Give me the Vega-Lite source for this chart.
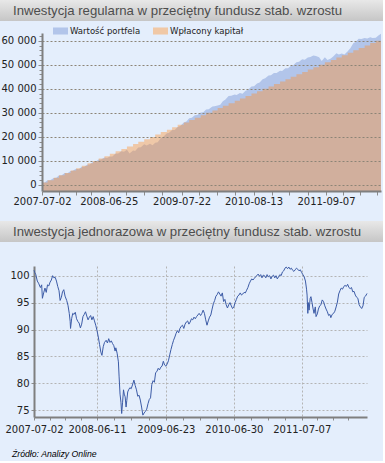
{
  "$schema": "https://vega.github.io/schema/vega-lite/v6.json",
  "background": "#e4eefc",
  "padding": {"left": 0, "top": 0, "right": 0, "bottom": 2},
  "config": {
    "view": {"stroke": null},
    "locale": {"number": {"decimal": ",", "thousands": " ", "grouping": [3], "currency": ["", " zł"]}},
    "axis": {"labelFont": "DejaVu Sans", "labelFontSize": 10, "labelColor": "#222222", "domainColor": "#7f7f7f", "domainWidth": 2, "tickColor": "#8c8c8c", "tickWidth": 1, "gridDash": [2, 2], "labelFlush": false, "labelOverlap": false, "tickCount": 100}
  },
  "title": {"text": "Źródło: Analizy Online", "orient": "bottom", "anchor": "start", "frame": "bounds", "font": "Liberation Sans", "fontSize": 8.7, "fontStyle": "italic", "fontWeight": "normal", "color": "#000000", "dx": 12, "offset": 16},
  "resolve": {"scale": {"color": "independent"}, "legend": {"color": "independent"}},
  "datasets": {
    "val": [
      {"d": "2007-07-02", "v": 1000}, {"d": "2007-07-16", "v": 990}, {"d": "2007-08-01", "v": 1985}, {"d": "2007-08-15", "v": 1935},
      {"d": "2007-09-03", "v": 2951}, {"d": "2007-09-17", "v": 2963}, {"d": "2007-10-01", "v": 3981}, {"d": "2007-10-16", "v": 4030},
      {"d": "2007-11-01", "v": 4989}, {"d": "2007-11-16", "v": 4889}, {"d": "2007-12-03", "v": 5863}, {"d": "2007-12-14", "v": 5882},
      {"d": "2008-01-02", "v": 6772}, {"d": "2008-01-16", "v": 6523}, {"d": "2008-02-01", "v": 7594}, {"d": "2008-02-15", "v": 7635},
      {"d": "2008-03-03", "v": 8487}, {"d": "2008-03-14", "v": 8469}, {"d": "2008-04-01", "v": 9608}, {"d": "2008-04-15", "v": 9660},
      {"d": "2008-05-02", "v": 10577}, {"d": "2008-05-15", "v": 10554}, {"d": "2008-06-02", "v": 11417}, {"d": "2008-06-16", "v": 11253},
      {"d": "2008-07-01", "v": 11813}, {"d": "2008-07-15", "v": 11882}, {"d": "2008-08-01", "v": 13088}, {"d": "2008-08-15", "v": 13132},
      {"d": "2008-09-01", "v": 14043}, {"d": "2008-09-15", "v": 13851}, {"d": "2008-10-01", "v": 14611}, {"d": "2008-10-15", "v": 13064},
      {"d": "2008-11-03", "v": 14322}, {"d": "2008-11-14", "v": 14137}, {"d": "2008-12-01", "v": 15562}, {"d": "2008-12-15", "v": 15700},
      {"d": "2009-01-02", "v": 16898}, {"d": "2009-01-15", "v": 16436}, {"d": "2009-02-02", "v": 17163}, {"d": "2009-02-16", "v": 16561},
      {"d": "2009-03-02", "v": 17606}, {"d": "2009-03-16", "v": 17795}, {"d": "2009-04-01", "v": 19551}, {"d": "2009-04-15", "v": 20049},
      {"d": "2009-05-04", "v": 21547}, {"d": "2009-05-15", "v": 21626}, {"d": "2009-06-01", "v": 22861}, {"d": "2009-06-15", "v": 22833},
      {"d": "2009-07-01", "v": 24079}, {"d": "2009-07-15", "v": 24506}, {"d": "2009-08-03", "v": 25934}, {"d": "2009-08-17", "v": 26379},
      {"d": "2009-09-01", "v": 27734}, {"d": "2009-09-15", "v": 27918}, {"d": "2009-10-01", "v": 29042}, {"d": "2009-10-15", "v": 29105},
      {"d": "2009-11-02", "v": 30169}, {"d": "2009-11-16", "v": 30235}, {"d": "2009-12-01", "v": 31367}, {"d": "2009-12-15", "v": 31503},
      {"d": "2010-01-04", "v": 32639}, {"d": "2010-01-15", "v": 32744}, {"d": "2010-02-01", "v": 33007}, {"d": "2010-02-15", "v": 33369},
      {"d": "2010-03-01", "v": 34840}, {"d": "2010-03-15", "v": 35510}, {"d": "2010-04-01", "v": 36957}, {"d": "2010-04-15", "v": 37072},
      {"d": "2010-05-04", "v": 37613}, {"d": "2010-05-14", "v": 37377}, {"d": "2010-06-01", "v": 38259}, {"d": "2010-06-15", "v": 37976},
      {"d": "2010-07-01", "v": 39178}, {"d": "2010-07-15", "v": 39592}, {"d": "2010-08-02", "v": 40965}, {"d": "2010-08-16", "v": 41008},
      {"d": "2010-09-01", "v": 42220}, {"d": "2010-09-15", "v": 42656}, {"d": "2010-10-01", "v": 44004}, {"d": "2010-10-15", "v": 44360},
      {"d": "2010-11-02", "v": 45494}, {"d": "2010-11-15", "v": 45585}, {"d": "2010-12-01", "v": 46585}, {"d": "2010-12-15", "v": 46538},
      {"d": "2011-01-03", "v": 47492}, {"d": "2011-01-14", "v": 47444}, {"d": "2011-02-01", "v": 48587}, {"d": "2011-02-15", "v": 48538},
      {"d": "2011-03-01", "v": 49441}, {"d": "2011-03-15", "v": 49788}, {"d": "2011-04-01", "v": 51085}, {"d": "2011-04-15", "v": 51237},
      {"d": "2011-05-02", "v": 52237}, {"d": "2011-05-16", "v": 52031}, {"d": "2011-06-01", "v": 53031}, {"d": "2011-06-15", "v": 53188},
      {"d": "2011-07-01", "v": 53873}, {"d": "2011-07-15", "v": 53606}, {"d": "2011-08-01", "v": 53161}, {"d": "2011-08-15", "v": 51525},
      {"d": "2011-09-01", "v": 53071}, {"d": "2011-09-15", "v": 51959}, {"d": "2011-10-03", "v": 52570}, {"d": "2011-10-17", "v": 53533},
      {"d": "2011-11-02", "v": 54817}, {"d": "2011-11-15", "v": 54240}, {"d": "2011-12-01", "v": 54662}, {"d": "2011-12-15", "v": 54310},
      {"d": "2012-01-02", "v": 55663}, {"d": "2012-01-16", "v": 56860}, {"d": "2012-02-01", "v": 58937}, {"d": "2012-02-15", "v": 59546},
      {"d": "2012-03-01", "v": 60789}, {"d": "2012-03-15", "v": 60666}, {"d": "2012-04-02", "v": 61170}, {"d": "2012-04-16", "v": 60919},
      {"d": "2012-05-02", "v": 61415}, {"d": "2012-05-15", "v": 61095}, {"d": "2012-06-01", "v": 61264}, {"d": "2012-06-15", "v": 62109},
      {"d": "2012-06-29", "v": 62890}
    ],
    "cap": [
      {"d": "2007-07-02", "c": 1000}, {"d": "2007-08-01", "c": 2000}, {"d": "2007-09-03", "c": 3000}, {"d": "2007-10-01", "c": 4000},
      {"d": "2007-11-01", "c": 5000}, {"d": "2007-12-03", "c": 6000}, {"d": "2008-01-02", "c": 7000}, {"d": "2008-02-01", "c": 8000},
      {"d": "2008-03-03", "c": 9000}, {"d": "2008-04-01", "c": 10000}, {"d": "2008-05-02", "c": 11000}, {"d": "2008-06-02", "c": 12000},
      {"d": "2008-07-01", "c": 13000}, {"d": "2008-08-01", "c": 14000}, {"d": "2008-09-01", "c": 15000}, {"d": "2008-10-01", "c": 16000},
      {"d": "2008-11-03", "c": 17000}, {"d": "2008-12-01", "c": 18000}, {"d": "2009-01-02", "c": 19000}, {"d": "2009-02-02", "c": 20000},
      {"d": "2009-03-02", "c": 21000}, {"d": "2009-04-01", "c": 22000}, {"d": "2009-05-04", "c": 23000}, {"d": "2009-06-01", "c": 24000},
      {"d": "2009-07-01", "c": 25000}, {"d": "2009-08-03", "c": 26000}, {"d": "2009-09-01", "c": 27000}, {"d": "2009-10-01", "c": 28000},
      {"d": "2009-11-02", "c": 29000}, {"d": "2009-12-01", "c": 30000}, {"d": "2010-01-04", "c": 31000}, {"d": "2010-02-01", "c": 32000},
      {"d": "2010-03-01", "c": 33000}, {"d": "2010-04-01", "c": 34000}, {"d": "2010-05-04", "c": 35000}, {"d": "2010-06-01", "c": 36000},
      {"d": "2010-07-01", "c": 37000}, {"d": "2010-08-02", "c": 38000}, {"d": "2010-09-01", "c": 39000}, {"d": "2010-10-01", "c": 40000},
      {"d": "2010-11-02", "c": 41000}, {"d": "2010-12-01", "c": 42000}, {"d": "2011-01-03", "c": 43000}, {"d": "2011-02-01", "c": 44000},
      {"d": "2011-03-01", "c": 45000}, {"d": "2011-04-01", "c": 46000}, {"d": "2011-05-02", "c": 47000}, {"d": "2011-06-01", "c": 48000},
      {"d": "2011-07-01", "c": 49000}, {"d": "2011-08-01", "c": 50000}, {"d": "2011-09-01", "c": 51000}, {"d": "2011-10-03", "c": 52000},
      {"d": "2011-11-02", "c": 53000}, {"d": "2011-12-01", "c": 54000}, {"d": "2012-01-02", "c": 55000}, {"d": "2012-02-01", "c": 56000},
      {"d": "2012-03-01", "c": 57000}, {"d": "2012-04-02", "c": 58000}, {"d": "2012-05-02", "c": 59000}, {"d": "2012-06-01", "c": 60000},
      {"d": "2012-06-29", "c": 60000}
    ],
    "price": [
      {"d": "2007-07-02", "p": 101.0}, {"d": "2007-07-06", "p": 100.6}, {"d": "2007-07-12", "p": 100.2}, {"d": "2007-07-20", "p": 99.0},
      {"d": "2007-07-27", "p": 98.6}, {"d": "2007-08-06", "p": 97.8}, {"d": "2007-08-13", "p": 98.3}, {"d": "2007-08-17", "p": 95.8},
      {"d": "2007-08-24", "p": 96.8}, {"d": "2007-08-31", "p": 97.7}, {"d": "2007-09-07", "p": 96.9}, {"d": "2007-09-14", "p": 98.3},
      {"d": "2007-09-21", "p": 98.1}, {"d": "2007-09-28", "p": 98.8}, {"d": "2007-10-05", "p": 99.2}, {"d": "2007-10-12", "p": 100.0},
      {"d": "2007-10-19", "p": 99.6}, {"d": "2007-10-26", "p": 99.7}, {"d": "2007-11-02", "p": 99.0}, {"d": "2007-11-09", "p": 98.0},
      {"d": "2007-11-16", "p": 97.2}, {"d": "2007-11-22", "p": 95.4}, {"d": "2007-11-29", "p": 96.0}, {"d": "2007-12-05", "p": 97.0},
      {"d": "2007-12-12", "p": 97.4}, {"d": "2007-12-19", "p": 96.2}, {"d": "2007-12-28", "p": 95.4}, {"d": "2008-01-04", "p": 94.5},
      {"d": "2008-01-11", "p": 93.0}, {"d": "2008-01-16", "p": 91.5}, {"d": "2008-01-18", "p": 90.2}, {"d": "2008-01-24", "p": 92.0},
      {"d": "2008-01-30", "p": 93.0}, {"d": "2008-02-06", "p": 92.8}, {"d": "2008-02-13", "p": 93.2}, {"d": "2008-02-20", "p": 92.0},
      {"d": "2008-02-27", "p": 91.5}, {"d": "2008-03-05", "p": 91.2}, {"d": "2008-03-12", "p": 90.3}, {"d": "2008-03-19", "p": 91.0},
      {"d": "2008-03-26", "p": 92.4}, {"d": "2008-04-02", "p": 92.8}, {"d": "2008-04-09", "p": 93.3}, {"d": "2008-04-16", "p": 92.5},
      {"d": "2008-04-23", "p": 91.8}, {"d": "2008-04-30", "p": 92.3}, {"d": "2008-05-07", "p": 92.6}, {"d": "2008-05-14", "p": 91.8},
      {"d": "2008-05-21", "p": 92.4}, {"d": "2008-05-28", "p": 91.6}, {"d": "2008-06-04", "p": 90.8}, {"d": "2008-06-11", "p": 89.8},
      {"d": "2008-06-18", "p": 88.6}, {"d": "2008-06-25", "p": 87.2}, {"d": "2008-07-02", "p": 85.8}, {"d": "2008-07-08", "p": 85.2},
      {"d": "2008-07-15", "p": 86.8}, {"d": "2008-07-22", "p": 87.6}, {"d": "2008-07-31", "p": 88.0}, {"d": "2008-08-07", "p": 87.5},
      {"d": "2008-08-14", "p": 88.3}, {"d": "2008-08-21", "p": 87.6}, {"d": "2008-08-28", "p": 87.9}, {"d": "2008-09-04", "p": 87.4},
      {"d": "2008-09-11", "p": 87.0}, {"d": "2008-09-18", "p": 86.0}, {"d": "2008-09-22", "p": 86.6}, {"d": "2008-09-29", "p": 85.6},
      {"d": "2008-10-06", "p": 84.0}, {"d": "2008-10-10", "p": 81.2}, {"d": "2008-10-15", "p": 78.0}, {"d": "2008-10-20", "p": 76.5},
      {"d": "2008-10-24", "p": 74.4}, {"d": "2008-10-29", "p": 76.5}, {"d": "2008-11-03", "p": 78.8}, {"d": "2008-11-07", "p": 78.0},
      {"d": "2008-11-12", "p": 77.5}, {"d": "2008-11-17", "p": 75.6}, {"d": "2008-11-21", "p": 76.8}, {"d": "2008-11-26", "p": 78.4},
      {"d": "2008-12-01", "p": 78.8}, {"d": "2008-12-08", "p": 79.2}, {"d": "2008-12-15", "p": 79.0}, {"d": "2008-12-22", "p": 79.7},
      {"d": "2008-12-30", "p": 80.6}, {"d": "2009-01-06", "p": 79.6}, {"d": "2009-01-13", "p": 78.8}, {"d": "2009-01-20", "p": 77.6},
      {"d": "2009-01-27", "p": 77.8}, {"d": "2009-02-03", "p": 76.9}, {"d": "2009-02-10", "p": 75.6}, {"d": "2009-02-17", "p": 74.1},
      {"d": "2009-02-24", "p": 74.5}, {"d": "2009-03-03", "p": 74.8}, {"d": "2009-03-10", "p": 75.2}, {"d": "2009-03-17", "p": 76.2},
      {"d": "2009-03-24", "p": 77.0}, {"d": "2009-03-31", "p": 77.3}, {"d": "2009-04-07", "p": 79.8}, {"d": "2009-04-14", "p": 80.5},
      {"d": "2009-04-21", "p": 80.2}, {"d": "2009-04-28", "p": 82.0}, {"d": "2009-05-05", "p": 82.2}, {"d": "2009-05-12", "p": 82.8},
      {"d": "2009-05-19", "p": 82.5}, {"d": "2009-05-26", "p": 83.0}, {"d": "2009-06-02", "p": 83.2}, {"d": "2009-06-09", "p": 84.1},
      {"d": "2009-06-16", "p": 83.4}, {"d": "2009-06-23", "p": 83.2}, {"d": "2009-06-30", "p": 83.6}, {"d": "2009-07-07", "p": 84.2},
      {"d": "2009-07-14", "p": 85.3}, {"d": "2009-07-21", "p": 86.3}, {"d": "2009-07-28", "p": 87.2}, {"d": "2009-08-04", "p": 88.0},
      {"d": "2009-08-11", "p": 88.6}, {"d": "2009-08-18", "p": 89.3}, {"d": "2009-08-25", "p": 89.8}, {"d": "2009-09-01", "p": 89.4},
      {"d": "2009-09-08", "p": 90.2}, {"d": "2009-09-15", "p": 90.6}, {"d": "2009-09-22", "p": 90.8}, {"d": "2009-09-29", "p": 90.2},
      {"d": "2009-10-06", "p": 91.0}, {"d": "2009-10-13", "p": 91.4}, {"d": "2009-10-20", "p": 91.6}, {"d": "2009-10-27", "p": 91.0},
      {"d": "2009-11-03", "p": 91.4}, {"d": "2009-11-10", "p": 92.0}, {"d": "2009-11-17", "p": 91.8}, {"d": "2009-11-24", "p": 92.3},
      {"d": "2009-12-01", "p": 92.0}, {"d": "2009-12-08", "p": 92.4}, {"d": "2009-12-15", "p": 92.7}, {"d": "2009-12-22", "p": 93.0},
      {"d": "2009-12-30", "p": 92.6}, {"d": "2010-01-06", "p": 93.0}, {"d": "2010-01-13", "p": 93.6}, {"d": "2010-01-20", "p": 93.0},
      {"d": "2010-01-27", "p": 91.8}, {"d": "2010-02-03", "p": 90.8}, {"d": "2010-02-10", "p": 91.6}, {"d": "2010-02-17", "p": 92.3},
      {"d": "2010-02-24", "p": 92.7}, {"d": "2010-03-03", "p": 93.8}, {"d": "2010-03-10", "p": 94.8}, {"d": "2010-03-17", "p": 95.4},
      {"d": "2010-03-24", "p": 96.2}, {"d": "2010-03-31", "p": 96.5}, {"d": "2010-04-07", "p": 97.0}, {"d": "2010-04-14", "p": 96.6},
      {"d": "2010-04-21", "p": 96.2}, {"d": "2010-04-28", "p": 96.8}, {"d": "2010-05-05", "p": 95.2}, {"d": "2010-05-12", "p": 95.6},
      {"d": "2010-05-19", "p": 94.6}, {"d": "2010-05-26", "p": 94.0}, {"d": "2010-06-02", "p": 94.6}, {"d": "2010-06-09", "p": 95.0},
      {"d": "2010-06-16", "p": 94.4}, {"d": "2010-06-23", "p": 93.9}, {"d": "2010-06-30", "p": 94.2}, {"d": "2010-07-07", "p": 95.0},
      {"d": "2010-07-14", "p": 95.6}, {"d": "2010-07-21", "p": 96.2}, {"d": "2010-07-28", "p": 96.4}, {"d": "2010-08-04", "p": 96.8},
      {"d": "2010-08-11", "p": 96.4}, {"d": "2010-08-18", "p": 96.6}, {"d": "2010-08-25", "p": 96.9}, {"d": "2010-09-01", "p": 96.8},
      {"d": "2010-09-08", "p": 97.3}, {"d": "2010-09-15", "p": 97.8}, {"d": "2010-09-22", "p": 98.5}, {"d": "2010-09-29", "p": 99.0},
      {"d": "2010-10-06", "p": 99.4}, {"d": "2010-10-13", "p": 99.2}, {"d": "2010-10-20", "p": 99.5}, {"d": "2010-10-27", "p": 99.8},
      {"d": "2010-11-03", "p": 100.0}, {"d": "2010-11-10", "p": 100.3}, {"d": "2010-11-17", "p": 99.9}, {"d": "2010-11-24", "p": 100.2},
      {"d": "2010-12-01", "p": 99.6}, {"d": "2010-12-08", "p": 100.1}, {"d": "2010-12-15", "p": 100.0}, {"d": "2010-12-22", "p": 99.6},
      {"d": "2010-12-29", "p": 100.2}, {"d": "2011-01-05", "p": 99.8}, {"d": "2011-01-12", "p": 100.0}, {"d": "2011-01-19", "p": 99.4},
      {"d": "2011-01-26", "p": 99.9}, {"d": "2011-02-02", "p": 100.1}, {"d": "2011-02-09", "p": 99.6}, {"d": "2011-02-16", "p": 100.0},
      {"d": "2011-02-23", "p": 99.4}, {"d": "2011-03-02", "p": 99.8}, {"d": "2011-03-09", "p": 100.2}, {"d": "2011-03-16", "p": 100.0},
      {"d": "2011-03-23", "p": 100.7}, {"d": "2011-03-30", "p": 100.9}, {"d": "2011-04-06", "p": 101.4}, {"d": "2011-04-13", "p": 101.6},
      {"d": "2011-04-20", "p": 101.3}, {"d": "2011-04-27", "p": 101.6}, {"d": "2011-05-04", "p": 101.2}, {"d": "2011-05-11", "p": 101.4},
      {"d": "2011-05-18", "p": 101.0}, {"d": "2011-05-25", "p": 100.8}, {"d": "2011-06-01", "p": 101.1}, {"d": "2011-06-08", "p": 101.4},
      {"d": "2011-06-15", "p": 101.2}, {"d": "2011-06-22", "p": 100.9}, {"d": "2011-06-29", "p": 101.1}, {"d": "2011-07-06", "p": 100.6},
      {"d": "2011-07-13", "p": 100.2}, {"d": "2011-07-20", "p": 99.8}, {"d": "2011-07-27", "p": 99.0}, {"d": "2011-08-02", "p": 97.5},
      {"d": "2011-08-05", "p": 96.4}, {"d": "2011-08-09", "p": 93.0}, {"d": "2011-08-12", "p": 95.0}, {"d": "2011-08-16", "p": 93.6},
      {"d": "2011-08-22", "p": 95.8}, {"d": "2011-08-26", "p": 96.1}, {"d": "2011-09-01", "p": 95.0}, {"d": "2011-09-06", "p": 94.0},
      {"d": "2011-09-12", "p": 93.0}, {"d": "2011-09-19", "p": 94.2}, {"d": "2011-09-23", "p": 92.4}, {"d": "2011-09-30", "p": 92.9},
      {"d": "2011-10-06", "p": 93.8}, {"d": "2011-10-13", "p": 94.4}, {"d": "2011-10-20", "p": 94.6}, {"d": "2011-10-27", "p": 95.5},
      {"d": "2011-11-03", "p": 95.2}, {"d": "2011-11-10", "p": 94.4}, {"d": "2011-11-17", "p": 93.8}, {"d": "2011-11-24", "p": 93.3},
      {"d": "2011-12-01", "p": 92.6}, {"d": "2011-12-08", "p": 92.8}, {"d": "2011-12-13", "p": 92.2}, {"d": "2011-12-20", "p": 92.8},
      {"d": "2011-12-28", "p": 93.0}, {"d": "2012-01-04", "p": 93.4}, {"d": "2012-01-11", "p": 94.2}, {"d": "2012-01-18", "p": 95.1},
      {"d": "2012-01-25", "p": 96.6}, {"d": "2012-02-01", "p": 97.2}, {"d": "2012-02-08", "p": 97.7}, {"d": "2012-02-15", "p": 97.5},
      {"d": "2012-02-22", "p": 98.0}, {"d": "2012-02-29", "p": 98.2}, {"d": "2012-03-07", "p": 98.0}, {"d": "2012-03-14", "p": 98.4},
      {"d": "2012-03-21", "p": 97.8}, {"d": "2012-03-28", "p": 97.6}, {"d": "2012-04-04", "p": 97.8}, {"d": "2012-04-11", "p": 97.0},
      {"d": "2012-04-18", "p": 97.1}, {"d": "2012-04-25", "p": 96.4}, {"d": "2012-05-02", "p": 96.0}, {"d": "2012-05-09", "p": 95.8},
      {"d": "2012-05-16", "p": 94.6}, {"d": "2012-05-23", "p": 94.2}, {"d": "2012-05-30", "p": 93.9}, {"d": "2012-06-06", "p": 94.4},
      {"d": "2012-06-13", "p": 96.0}, {"d": "2012-06-20", "p": 96.2}, {"d": "2012-06-28", "p": 96.7}
    ]
  },
  "spacing": 15,
  "vconcat": [
    {
      "spacing": 2,
      "resolve": {"scale": {"color": "independent"}, "legend": {"color": "independent"}},
      "vconcat": [
        {
          "width": 383, "height": 21,
          "view": {"fill": {"gradient": "linear", "x1": 0, "y1": 0, "x2": 0, "y2": 1, "stops": [{"offset": 0, "color": "#e8e8e8"}, {"offset": 1, "color": "#c6c6c6"}]}, "stroke": null},
          "data": {"values": [{"t": "Inwestycja regularna w przeciętny fundusz stab. wzrostu"}]},
          "mark": {"type": "text", "align": "left", "baseline": "middle", "dx": -178.5, "font": "Liberation Sans", "fontSize": 13.2, "color": "#4d4d4d"},
          "encoding": {"text": {"field": "t"}}
        },
        {
          "spacing": 0,
          "resolve": {"scale": {"color": "independent"}, "legend": {"color": "independent"}},
          "hconcat": [
            {"width": 1, "height": 1, "data": {"values": []}, "mark": "point"},
            {
              "width": 339, "height": 158,
              "layer": [
                {
                  "data": {"name": "val"},
                  "mark": {"type": "area", "interpolate": "linear"},
                  "encoding": {
                    "x": {"field": "d", "type": "temporal",
                      "scale": {"type": "utc", "domain": [{"year": 2007, "month": 7, "date": 2, "utc": true}, {"year": 2012, "month": 6, "date": 29, "utc": true}]},
                      "axis": {"title": null, "grid": false, "tickSize": 4, "labelPadding": 1, "zindex": 2, "labelOverlap": false, "tickCount": 100,
                        "values": [
                          {"year": 2007, "month": 7, "date": 2, "utc": true}, {"year": 2007, "month": 10, "date": 1, "utc": true}, {"year": 2007, "month": 12, "date": 30, "utc": true}, {"year": 2008, "month": 3, "date": 24, "utc": true},
                          {"year": 2008, "month": 6, "date": 25, "utc": true}, {"year": 2008, "month": 9, "date": 25, "utc": true}, {"year": 2008, "month": 12, "date": 31, "utc": true}, {"year": 2009, "month": 4, "date": 10, "utc": true},
                          {"year": 2009, "month": 7, "date": 22, "utc": true}, {"year": 2009, "month": 10, "date": 24, "utc": true}, {"year": 2010, "month": 1, "date": 26, "utc": true}, {"year": 2010, "month": 5, "date": 5, "utc": true},
                          {"year": 2010, "month": 8, "date": 13, "utc": true}, {"year": 2010, "month": 11, "date": 18, "utc": true}, {"year": 2011, "month": 2, "date": 21, "utc": true}, {"year": 2011, "month": 6, "date": 3, "utc": true},
                          {"year": 2011, "month": 9, "date": 7, "utc": true}, {"year": 2011, "month": 12, "date": 9, "utc": true}, {"year": 2012, "month": 3, "date": 8, "utc": true}, {"year": 2012, "month": 6, "date": 6, "utc": true}
                        ],
                        "labelExpr": "indexof(['2007-07-02','2008-06-25','2009-07-22','2010-08-13','2011-09-07'], utcFormat(datum.value, '%Y-%m-%d')) >= 0 ? utcFormat(datum.value, '%Y-%m-%d') : ''"
                      }
                    },
                    "y": {"field": "v", "type": "quantitative",
                      "scale": {"domain": [-2500, 63200], "nice": false, "zero": false},
                      "axis": {"title": null, "zindex": 1, "minExtent": 41, "maxExtent": 41, "labelPadding": 2, "labelOverlap": false, "tickCount": 100,
                        "values": [0, 2000, 4000, 6000, 8000, 10000, 12000, 14000, 16000, 18000, 20000, 22000, 24000, 26000, 28000, 30000, 32000, 34000, 36000, 38000, 40000, 42000, 44000, 46000, 48000, 50000, 52000, 54000, 56000, 58000, 60000, 62000],
                        "format": ",d",
                        "labelExpr": "datum.value % 10000 === 0 ? datum.label : ''",
                        "tickSize": {"condition": {"test": "datum.value % 10000 === 0", "value": 4}, "value": 3},
                        "grid": true,
                        "gridColor": "#8c8476",
                        "gridOpacity": {"condition": {"test": "datum.value % 10000 === 0", "value": 1}, "value": 0}
                      }
                    },
                    "y2": {"datum": -2500},
                    "color": {"datum": "Wartość portfela", "type": "nominal",
                      "scale": {"domain": ["Wartość portfela", "Wpłacony kapitał"], "range": ["#b2c5ea", "#f0c8a6"]},
                      "legend": {"orient": "none", "legendX": 11, "legendY": -9.5, "direction": "horizontal", "title": null,
                        "symbolType": "M-1,-0.47H1V0.47H-1Z", "symbolSize": 225, "symbolOpacity": 1, "symbolStrokeWidth": 0,
                        "labelFont": "DejaVu Sans", "labelFontSize": 8.5, "labelColor": "#222222", "labelOffset": 2, "columnPadding": 12, "padding": 0}
                    }
                  }
                },
                {
                  "data": {"name": "cap"},
                  "mark": {"type": "area", "interpolate": "step-after", "color": "#ff8f2a", "opacity": 0.4},
                  "encoding": {
                    "x": {"field": "d", "type": "temporal"},
                    "y": {"field": "c", "type": "quantitative"},
                    "y2": {"datum": -2500}
                  }
                }
              ]
            }
          ]
        }
      ]
    },
    {
      "spacing": 23,
      "resolve": {"scale": {"color": "independent"}, "legend": {"color": "independent"}},
      "vconcat": [
        {
          "width": 383, "height": 21,
          "view": {"fill": {"gradient": "linear", "x1": 0, "y1": 0, "x2": 0, "y2": 1, "stops": [{"offset": 0, "color": "#e8e8e8"}, {"offset": 1, "color": "#c6c6c6"}]}, "stroke": null},
          "data": {"values": [{"t": "Inwestycja jednorazowa w przeciętny fundusz stab. wzrostu"}]},
          "mark": {"type": "text", "align": "left", "baseline": "middle", "dx": -178.5, "font": "Liberation Sans", "fontSize": 13.2, "color": "#4d4d4d"},
          "encoding": {"text": {"field": "t"}}
        },
        {
          "spacing": 0,
          "hconcat": [
            {"width": 1, "height": 1, "data": {"values": []}, "mark": "point"},
            {
              "width": 333, "height": 151,
              "data": {"name": "price"},
              "mark": {"type": "line", "color": "#3c5ba6", "strokeWidth": 1},
              "encoding": {
                "x": {"field": "d", "type": "temporal",
                  "scale": {"type": "utc", "domain": [{"year": 2007, "month": 7, "date": 2, "utc": true}, {"year": 2012, "month": 6, "date": 28, "utc": true}]},
                  "axis": {"title": null, "tickSize": 3, "labelPadding": 4, "labelOverlap": false, "tickCount": 100,
                    "values": [
                      {"year": 2007, "month": 7, "date": 2, "utc": true}, {"year": 2007, "month": 9, "date": 28, "utc": true}, {"year": 2007, "month": 12, "date": 19, "utc": true}, {"year": 2008, "month": 3, "date": 16, "utc": true},
                      {"year": 2008, "month": 6, "date": 11, "utc": true}, {"year": 2008, "month": 9, "date": 13, "utc": true}, {"year": 2008, "month": 12, "date": 16, "utc": true}, {"year": 2009, "month": 3, "date": 21, "utc": true},
                      {"year": 2009, "month": 6, "date": 23, "utc": true}, {"year": 2009, "month": 9, "date": 24, "utc": true}, {"year": 2009, "month": 12, "date": 26, "utc": true}, {"year": 2010, "month": 3, "date": 29, "utc": true},
                      {"year": 2010, "month": 6, "date": 30, "utc": true}, {"year": 2010, "month": 10, "date": 1, "utc": true}, {"year": 2011, "month": 1, "date": 2, "utc": true}, {"year": 2011, "month": 4, "date": 6, "utc": true},
                      {"year": 2011, "month": 7, "date": 7, "utc": true}, {"year": 2011, "month": 10, "date": 1, "utc": true}, {"year": 2011, "month": 12, "date": 23, "utc": true}, {"year": 2012, "month": 3, "date": 17, "utc": true}
                    ],
                    "labelExpr": "indexof(['2007-07-02','2008-06-11','2009-06-23','2010-06-30','2011-07-07'], utcFormat(datum.value, '%Y-%m-%d')) >= 0 ? utcFormat(datum.value, '%Y-%m-%d') : ''",
                    "grid": true,
                    "gridColor": "#b4b4b4",
                    "gridOpacity": {"condition": {"test": "indexof(['2008-06-11','2009-06-23','2010-06-30','2011-07-07'], utcFormat(datum.value, '%Y-%m-%d')) >= 0", "value": 1}, "value": 0}
                  }
                },
                "y": {"field": "p", "type": "quantitative",
                  "scale": {"domain": [73.75, 101.8], "nice": false, "zero": false},
                  "axis": {"title": null, "values": [75, 80, 85, 90, 95, 100], "format": "d", "tickSize": 3, "labelPadding": 2, "minExtent": 33, "maxExtent": 33, "grid": true, "gridColor": "#b4b4b4", "labelOverlap": false, "tickCount": 100}
                }
              }
            }
          ]
        }
      ]
    }
  ]
}
